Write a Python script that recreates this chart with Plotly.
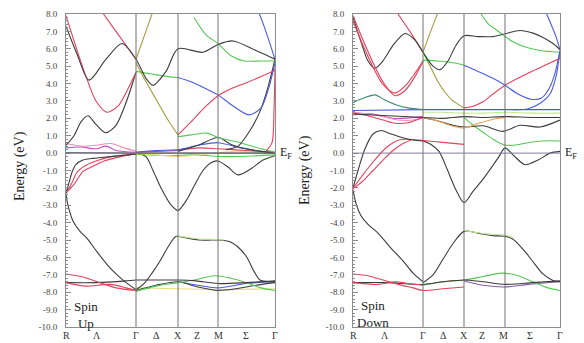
import plotly.graph_objects as go

# ---------------- axes / labels ----------------
UP_SYM_K = [0, 70, 112, 152, 209]          # R, Gamma, X, M, Gamma
DN_SYM_K = [0, 70, 111, 152, 207]
K_LABELS = ["R", "Λ", "Γ", "Δ", "X", "Z", "M", "Σ", "Γ"]
UP_LABEL_K = [0, 31, 70, 90, 112, 131, 152, 180, 209]
DN_LABEL_K = [0, 32, 70, 90, 111, 129, 150, 177, 207]
E_TICKS = [8, 7, 6, 5, 4, 3, 2, 1, 0, -1, -2, -3, -4, -5, -6, -7, -8, -9, -10]
E_TICK_LABELS = ["8.0", "7.0", "6.0", "5.0", "4.0", "3.0", "2.0", "1.0", "0.0", "-1.0",
                 "-2.0", "-3.0", "-4.0", "-5.0", "-6.0", "-7.0", "-8.0", "-9.0", "-10.0"]

# ---------------- Spin Up bands (k, E in eV) ----------------
u_blk_hi_k = [0, 11, 23, 40, 56, 70, 80, 87, 100, 112, 137, 152, 167, 190, 209]
u_blk_hi_e = [7.3, 5.7, 4.2, 5.4, 6.3, 5.4, 4.3, 3.9, 4.7, 6.0, 5.8, 6.25, 6.45, 5.9, 5.4]
u_red_par_k = [0, 10, 20, 30, 41, 52, 62, 70]
u_red_par_e = [7.9, 6.1, 4.4, 3.0, 2.35, 2.7, 3.7, 4.65]
u_red_top_k = [30, 50, 70]
u_red_top_e = [8.6, 7.0, 5.4]
u_olv_v_k = [70, 80, 91, 102, 112]
u_olv_v_e = [5.2, 4.1, 3.0, 1.9, 1.05]
u_red_xm_k = [112, 125, 140, 152, 165, 181, 195, 209]
u_red_xm_e = [1.05, 1.8, 2.7, 3.3, 3.7, 4.06, 4.4, 4.75]
u_olv_up_k = [70, 78, 86, 92]
u_olv_up_e = [5.4, 6.7, 8.0, 9.0]
u_grn_gx_k = [70, 80, 91, 102, 112]
u_grn_gx_e = [4.7, 4.6, 4.5, 4.4, 4.35]
u_blu_xm_k = [112, 125, 140, 152, 165, 183, 195, 203, 209]
u_blu_xm_e = [4.35, 4.1, 3.7, 3.35, 2.8, 2.2, 2.6, 3.8, 5.2]
u_grn_hi_k = [128, 140, 152, 165, 178, 195, 209]
u_grn_hi_e = [7.8, 6.8, 6.3, 5.6, 5.3, 5.3, 5.3]
u_blu_top_k = [188, 198, 209]
u_blu_top_e = [8.8, 7.3, 5.4]
u_blk_rise_k = [160, 172, 184, 194, 202, 209]
u_blk_rise_e = [0.2, 0.4, 1.3, 2.4, 3.8, 5.4]
u_red_vert_k = [200, 206, 208, 209]
u_red_vert_e = [0.1, 0.6, 2.5, 4.9]
u_blk_lo_k = [0, 8, 15, 22, 30, 40, 50, 60, 70]
u_blk_lo_e = [0.45, 1.0, 1.8, 2.15, 1.65, 1.17, 1.6, 2.9, 4.65]
u_pnk_f_k = [0, 15, 30, 45, 58, 70]
u_pnk_f_e = [0.55, 0.4, 0.45, 0.55, 0.3, 0.1]
u_mag_f_k = [0, 15, 30, 40, 50, 70]
u_mag_f_e = [0.3, 0.35, 0.25, 0.4, 0.15, 0.05]
u_blk_f0_k = [0, 70, 112, 152, 209]
u_blk_f0_e = [0.02, 0.0, 0.0, 0.0, 0.0]
u_blu_f_k = [70, 90, 112, 132, 152, 175, 195, 209]
u_blu_f_e = [0.05, 0.15, 0.2, 0.45, 0.6, 0.3, 0.1, 0.05]
u_grn_f_k = [112, 125, 141, 152, 174, 195, 209]
u_grn_f_e = [0.95, 1.05, 1.15, 0.9, 0.6, 0.25, 0.05]
u_blk_m_k = [112, 132, 152, 165, 180, 195, 209]
u_blk_m_e = [0.1, 0.45, 0.9, 0.5, 0.25, 0.1, 0.0]
u_olv_f_k = [70, 91, 112, 140, 170, 209]
u_olv_f_e = [0.0, -0.1, -0.2, -0.05, 0.1, 0.0]
u_grn_f2_k = [70, 100, 130, 160, 209]
u_grn_f2_e = [-0.05, -0.15, -0.1, -0.2, -0.1]
u_red_f_k = [70, 91, 112, 132, 152, 180, 209]
u_red_f_e = [0.05, 0.1, 0.15, 0.3, 0.25, 0.15, 0.05]
u_blk_val_k = [70, 80, 87, 95, 104, 112, 120, 128, 137, 145, 152, 162, 172, 185, 197, 209]
u_blk_val_e = [0.0, -0.2, -1.0, -2.0, -2.9, -3.3, -2.75, -1.9, -1.0, -0.55, -0.45, -0.8, -1.25, -0.9, -0.4, -0.15]
u_blk_r_k = [0, 3, 6, 10, 17, 27, 45, 70]
u_blk_r_e = [-2.3, -1.7, -1.1, -0.65, -0.4, -0.3, -0.2, -0.05]
u_red_r1_k = [0, 6, 11, 20, 30, 45, 70]
u_red_r1_e = [-2.3, -1.7, -1.1, -0.7, -0.45, -0.2, -0.05]
u_red_r2_k = [0, 8, 17, 27, 38, 55, 70]
u_red_r2_e = [-2.3, -1.8, -1.05, -0.75, -0.45, -0.2, -0.05]
u_blk_deep_k = [0, 2, 7, 14, 21, 30, 44, 57, 70]
u_blk_deep_e = [-2.35, -3.0, -3.9, -4.5, -4.9, -5.6, -6.6, -7.3, -7.85]
u_blk_gxmg_k = [70, 78, 86, 94, 102, 110, 122, 134, 145, 152, 164, 172, 181, 188, 194, 209]
u_blk_gxmg_e = [-7.85, -7.5, -6.9, -6.2, -5.4, -4.8, -4.9, -5.0, -5.0, -5.0, -5.1, -5.4, -6.0, -6.8, -7.3, -7.4]
u_grn_xm_k = [110, 122, 134, 145, 158]
u_grn_xm_e = [-4.75, -4.85, -4.95, -4.95, -5.0]
u_red_l1_k = [0, 15, 34, 50, 70]
u_red_l1_e = [-6.95, -7.1, -7.45, -7.75, -7.9]
u_red_l2_k = [0, 20, 44, 60, 70]
u_red_l2_e = [-7.45, -7.65, -7.55, -7.75, -7.9]
u_blk_l_k = [0, 30, 60, 70, 90, 112, 130, 152, 180, 209]
u_blk_l_e = [-7.45, -7.45, -7.35, -7.3, -7.3, -7.3, -7.35, -7.5, -7.45, -7.35]
u_grn_l_k = [70, 90, 112, 132, 149, 165, 180, 195, 209]
u_grn_l_e = [-7.95, -7.65, -7.45, -7.25, -7.05, -7.2, -7.45, -7.75, -7.9]
u_blk_l2_k = [70, 90, 112, 132, 152, 170, 190, 209]
u_blk_l2_e = [-7.9, -7.6, -7.4, -7.7, -7.9, -7.8, -7.6, -7.45]
u_blu_l_k = [112, 132, 152, 180, 209]
u_blu_l_e = [-7.4, -7.6, -7.75, -7.5, -7.4]
u_yel_l_k = [70, 112, 152, 209]
u_yel_l_e = [-7.75, -7.8, -7.85, -7.8]

# ---------------- Spin Down bands ----------------
d_red_a_k = [0, 10, 20, 30, 42, 52, 62, 70]
d_red_a_e = [7.9, 6.5, 5.2, 4.1, 3.3, 3.6, 4.4, 5.3]
d_red_b_k = [0, 10, 20, 30, 42, 52, 62, 70]
d_red_b_e = [7.6, 6.2, 4.95, 3.95, 3.45, 3.85, 4.6, 5.3]
d_blk_hi_k = [0, 8, 15, 22, 30, 40, 52, 62, 70, 80, 87, 95, 103, 111, 125, 140, 152, 167, 180, 190, 200, 207]
d_blk_hi_e = [7.8, 6.4, 5.3, 4.88, 5.3, 6.2, 6.88, 6.5, 5.8, 5.0, 4.8, 5.3, 6.2, 6.75, 6.7, 6.7, 6.86, 7.05, 6.9, 6.65, 6.3, 5.95]
d_red_top_k = [45, 58, 70]
d_red_top_e = [8.0, 6.9, 5.8]
d_olv_v_k = [70, 78, 85, 92, 99, 111]
d_olv_v_e = [5.8, 4.9, 4.1, 3.5, 3.05, 2.6]
d_olv_up_k = [70, 77, 84, 90]
d_olv_up_e = [5.8, 6.9, 7.95, 8.9]
d_grn_gx_k = [70, 85, 100, 111]
d_grn_gx_e = [5.35, 5.3, 5.2, 5.07]
d_blu_xm_k = [111, 125, 140, 152, 165, 178, 188, 196, 202, 207]
d_blu_xm_e = [5.05, 4.7, 4.3, 3.9, 3.4, 3.1, 3.15, 3.7, 4.6, 5.9]
d_red_xm_k = [111, 120, 130, 140, 152, 165, 177, 192, 207]
d_red_xm_e = [2.6, 2.7, 2.95, 3.4, 3.9, 4.3, 4.65, 5.05, 5.45]
d_blu_top_k = [190, 197, 203, 207]
d_blu_top_e = [8.5, 7.55, 6.7, 5.95]
d_blu_rise_k = [160, 175, 188, 197, 203, 207]
d_blu_rise_e = [2.5, 2.55, 2.9, 3.4, 4.4, 5.9]
d_grn_hi_k = [128, 135, 143, 150, 160, 170, 187, 207]
d_grn_hi_e = [8.0, 7.45, 7.1, 6.8, 6.4, 6.15, 5.9, 5.8]
d_tel_r_k = [0, 10, 22, 32, 42, 55, 70]
d_tel_r_e = [2.9, 3.15, 3.35, 3.05, 2.8, 2.6, 2.5]
d_blu_flat_k = [0, 70, 111, 152, 207]
d_blu_flat_e = [2.45, 2.5, 2.5, 2.5, 2.5]
d_blk_flat_k = [0, 35, 70, 90, 111, 130, 152, 180, 207]
d_blk_flat_e = [2.25, 2.15, 2.05, 2.0, 2.1, 2.05, 2.1, 2.05, 2.05]
d_red_f_k = [0, 15, 30, 42, 55, 70]
d_red_f_e = [2.3, 2.15, 1.9, 1.72, 1.75, 2.05]
d_pnk_f_k = [0, 15, 30, 45, 60, 70]
d_pnk_f_e = [2.35, 2.25, 2.1, 1.9, 1.9, 2.05]
d_mag_f_k = [0, 20, 40, 70]
d_mag_f_e = [2.2, 2.25, 2.0, 2.1]
d_lgr_f_k = [70, 90, 111, 130, 152, 180, 207]
d_lgr_f_e = [2.35, 2.35, 2.3, 2.3, 2.35, 2.3, 2.3]
d_org_f_k = [70, 85, 100, 111, 125, 140, 152]
d_org_f_e = [2.05, 1.85, 1.55, 1.45, 1.7, 1.95, 2.05]
d_grn_d_k = [111, 120, 130, 140, 150, 160, 175, 190, 207]
d_grn_d_e = [2.05, 1.6, 1.2, 0.8, 0.5, 0.45, 0.6, 0.7, 0.7]
d_blk_w_k = [70, 85, 100, 111, 130, 150, 167, 187, 207]
d_blk_w_e = [2.05, 1.85, 1.6, 1.5, 1.57, 1.25, 1.6, 1.5, 1.9]
d_blk_lo_k = [0, 5, 12, 20, 28, 38, 50, 60, 70]
d_blk_lo_e = [-2.0, -1.0, 0.25, 1.1, 1.3, 1.1, 0.88, 0.75, 0.7]
d_red_lo_k = [0, 8, 16, 24, 32, 40, 48, 60, 70, 90, 111]
d_red_lo_e = [-2.0, -1.4, -0.8, -0.25, 0.25, 0.6, 0.78, 0.78, 0.72, 0.62, 0.5]
d_red_lo2_k = [0, 10, 20, 30, 40, 50, 58]
d_red_lo2_e = [-2.05, -1.6, -1.0, -0.4, 0.15, 0.55, 0.76]
d_blk_v_k = [70, 78, 86, 94, 102, 111, 120, 130, 140, 146, 152, 160, 172, 185, 197, 207]
d_blk_v_e = [0.7, 0.5, 0.1, -0.9, -2.0, -2.85, -2.2, -1.5, -0.7, -0.2, 0.3, -0.1, -0.67, -0.4, 0.0, 0.1]
d_blk_deep_k = [0, 3, 8, 15, 25, 37, 50, 60, 70]
d_blk_deep_e = [-2.1, -2.9, -3.6, -4.1, -4.6, -5.4, -6.2, -6.9, -7.4]
d_blk_gxmg_k = [70, 80, 90, 100, 111, 125, 140, 152, 160, 168, 174, 182, 190, 200, 207]
d_blk_gxmg_e = [-7.45, -7.0, -6.1, -5.2, -4.5, -4.6, -4.75, -4.78, -4.95, -5.4, -5.8, -6.4, -6.95, -7.33, -7.4]
d_grn_xm_k = [111, 130, 152, 160]
d_grn_xm_e = [-4.45, -4.62, -4.72, -4.85]
d_red_l1_k = [0, 15, 30, 45, 60, 70, 90, 111]
d_red_l1_e = [-6.95, -7.05, -7.3, -7.55, -7.75, -7.9, -7.8, -7.7]
d_red_l2_k = [0, 25, 42, 55, 70]
d_red_l2_e = [-7.45, -7.55, -7.4, -7.5, -7.6]
d_blk_l_k = [0, 35, 70, 90, 111, 130, 152, 180, 207]
d_blk_l_e = [-7.45, -7.45, -7.55, -7.4, -7.3, -7.4, -7.55, -7.45, -7.35]
d_grn_l_k = [70, 90, 111, 130, 149, 165, 180, 195, 207]
d_grn_l_e = [-7.6, -7.4, -7.3, -7.1, -6.9, -7.05, -7.4, -7.75, -7.9]
d_pur_l_k = [111, 130, 152, 175, 207]
d_pur_l_e = [-7.35, -7.6, -7.7, -7.55, -7.4]

# ---------------- style ----------------
BLACK = "#3c3c3c"
RED = "#e6415c"
PINK = "#f08cb4"
MAGENTA = "#cc4cc4"
GREEN = "#55c855"
LGREEN = "#c2ea8a"
BLUE = "#4a5ae0"
OLIVE = "#a49c3c"
YELLOW = "#e6e07a"
ORANGE = "#e6a455"
TEAL = "#3c8c6c"
PURPLE = "#8a5aa8"
FRAME = "#8c8c8c"
SERIF = "Liberation Serif, Times New Roman, serif"

UP_BANDS = [
    (u_yel_l_k, u_yel_l_e, YELLOW), (u_blu_l_k, u_blu_l_e, BLUE),
    (u_blk_l2_k, u_blk_l2_e, BLACK), (u_grn_l_k, u_grn_l_e, GREEN),
    (u_blk_l_k, u_blk_l_e, BLACK), (u_red_l2_k, u_red_l2_e, RED), (u_red_l1_k, u_red_l1_e, RED),
    (u_blk_gxmg_k, u_blk_gxmg_e, BLACK), (u_grn_xm_k, u_grn_xm_e, LGREEN),
    (u_blk_deep_k, u_blk_deep_e, BLACK),
    (u_red_r2_k, u_red_r2_e, RED), (u_red_r1_k, u_red_r1_e, RED), (u_blk_r_k, u_blk_r_e, BLACK),
    (u_blk_val_k, u_blk_val_e, BLACK),
    (u_grn_f2_k, u_grn_f2_e, GREEN), (u_olv_f_k, u_olv_f_e, YELLOW), (u_red_f_k, u_red_f_e, RED),
    (u_blk_f0_k, u_blk_f0_e, BLACK), (u_mag_f_k, u_mag_f_e, MAGENTA), (u_pnk_f_k, u_pnk_f_e, PINK),
    (u_blu_f_k, u_blu_f_e, BLUE), (u_blk_m_k, u_blk_m_e, BLACK), (u_grn_f_k, u_grn_f_e, GREEN),
    (u_blk_lo_k, u_blk_lo_e, BLACK), (u_red_vert_k, u_red_vert_e, RED),
    (u_blk_rise_k, u_blk_rise_e, BLACK), (u_blu_top_k, u_blu_top_e, BLUE),
    (u_grn_hi_k, u_grn_hi_e, GREEN), (u_blu_xm_k, u_blu_xm_e, BLUE), (u_grn_gx_k, u_grn_gx_e, GREEN),
    (u_olv_up_k, u_olv_up_e, OLIVE), (u_red_xm_k, u_red_xm_e, RED), (u_olv_v_k, u_olv_v_e, OLIVE),
    (u_red_top_k, u_red_top_e, RED), (u_red_par_k, u_red_par_e, RED), (u_blk_hi_k, u_blk_hi_e, BLACK),
]

DN_BANDS = [
    (d_pur_l_k, d_pur_l_e, PURPLE), (d_grn_l_k, d_grn_l_e, GREEN), (d_blk_l_k, d_blk_l_e, BLACK),
    (d_red_l2_k, d_red_l2_e, RED), (d_red_l1_k, d_red_l1_e, RED),
    (d_blk_gxmg_k, d_blk_gxmg_e, BLACK), (d_grn_xm_k, d_grn_xm_e, LGREEN),
    (d_blk_deep_k, d_blk_deep_e, BLACK),
    (d_red_lo2_k, d_red_lo2_e, RED), (d_red_lo_k, d_red_lo_e, RED), (d_blk_lo_k, d_blk_lo_e, BLACK),
    (d_blk_v_k, d_blk_v_e, BLACK),
    (d_grn_d_k, d_grn_d_e, GREEN), (d_blk_w_k, d_blk_w_e, BLACK), (d_org_f_k, d_org_f_e, ORANGE),
    (d_lgr_f_k, d_lgr_f_e, LGREEN), (d_mag_f_k, d_mag_f_e, MAGENTA), (d_pnk_f_k, d_pnk_f_e, PINK),
    (d_red_f_k, d_red_f_e, RED), (d_blk_flat_k, d_blk_flat_e, BLACK), (d_blu_flat_k, d_blu_flat_e, BLUE),
    (d_tel_r_k, d_tel_r_e, TEAL),
    (d_grn_hi_k, d_grn_hi_e, GREEN), (d_blu_rise_k, d_blu_rise_e, BLUE), (d_blu_top_k, d_blu_top_e, BLUE),
    (d_red_xm_k, d_red_xm_e, RED), (d_blu_xm_k, d_blu_xm_e, BLUE), (d_grn_gx_k, d_grn_gx_e, GREEN),
    (d_olv_up_k, d_olv_up_e, OLIVE), (d_olv_v_k, d_olv_v_e, OLIVE), (d_red_top_k, d_red_top_e, RED),
    (d_blk_hi_k, d_blk_hi_e, BLACK), (d_red_b_k, d_red_b_e, RED), (d_red_a_k, d_red_a_e, RED),
]

fig = go.Figure()

for bands, xa, ya in [(UP_BANDS, "x", "y"), (DN_BANDS, "x2", "y2")]:
    for k, e, c in bands:
        fig.add_trace(go.Scatter(
            x=k, y=e, mode="lines", xaxis=xa, yaxis=ya,
            line=dict(color=c, width=1.1, shape="spline", smoothing=0.8),
            showlegend=False, hoverinfo="skip"))

shapes = []
for sym, xa, ya in [(UP_SYM_K, "x", "y"), (DN_SYM_K, "x2", "y2")]:
    for kv in sym[1:-1]:
        shapes.append(dict(type="line", xref=xa, yref=ya + " domain", x0=kv, x1=kv, y0=0, y1=1,
                           line=dict(color="#707070", width=1)))
    shapes.append(dict(type="line", xref=xa + " domain", yref=ya, x0=0, x1=1, y0=0, y1=0,
                       line=dict(color="#8a7a9a", width=1)))

def yaxis_cfg(anchor):
    return dict(anchor=anchor, range=[-10, 8], domain=[0, 1],
                tickvals=E_TICKS, ticktext=E_TICK_LABELS,
                ticks="inside", ticklen=5, tickcolor=FRAME, ticklabelstandoff=6,
                minor=dict(dtick=0.2, ticks="inside", ticklen=2, tickcolor=FRAME),
                showgrid=False, zeroline=False, showline=True, linecolor=FRAME, linewidth=1,
                mirror=True, tickfont=dict(family=SERIF, size=9, color="#444"))

def xaxis_cfg(domain, rng, anchor):
    return dict(domain=domain, range=rng, anchor=anchor, showticklabels=False,
                ticks="", showgrid=False, zeroline=False, showline=True, linecolor=FRAME,
                linewidth=1, mirror=True)

W, H = 584, 343
annotations = []
for labk, xa in [(UP_LABEL_K, "x"), (DN_LABEL_K, "x2")]:
    for kv, lab in zip(labk, K_LABELS):
        annotations.append(dict(text=lab, xref=xa, yref="paper", x=kv, y=0, yanchor="top",
                                yshift=-1, showarrow=False,
                                font=dict(family=SERIF, size=10, color="#333")))

annotations += [
    dict(text="Spin<br>Up", xref="x", yref="y", x=20, y=-9.3, showarrow=False,
         font=dict(family=SERIF, size=13, color="#222"), align="center"),
    dict(text="Spin<br>Down", xref="x2", yref="y2", x=20, y=-9.25, showarrow=False,
         font=dict(family=SERIF, size=13, color="#222"), align="center"),
    dict(text="E<sub>F</sub>", xref="paper", yref="y", x=278 / W, y=0, xanchor="left",
         showarrow=False, font=dict(family=SERIF, size=12, color="#222")),
    dict(text="E<sub>F</sub>", xref="paper", yref="y2", x=563 / W, y=0, xanchor="left",
         showarrow=False, font=dict(family=SERIF, size=12, color="#222")),
    dict(text="Energy (eV)", xref="paper", yref="paper", x=20 / W, y=1 - (166 - 14) / 313,
         xanchor="center", yanchor="middle",
         textangle=-90, showarrow=False, font=dict(family=SERIF, size=14, color="#222")),
    dict(text="Energy (eV)", xref="paper", yref="paper", x=305 / W, y=1 - (170 - 14) / 313,
         xanchor="center", yanchor="middle",
         textangle=-90, showarrow=False, font=dict(family=SERIF, size=14, color="#222")),
]

fig.update_layout(
    width=W, height=H, margin=dict(l=0, r=0, t=14, b=16),
    paper_bgcolor="white", plot_bgcolor="white",
    xaxis=xaxis_cfg([66 / W, 275 / W], [0, 209], "y"),
    yaxis=yaxis_cfg("x"),
    xaxis2=xaxis_cfg([353 / W, 560 / W], [0, 207], "y2"),
    yaxis2=yaxis_cfg("x2"),
    shapes=shapes, annotations=annotations,
)

fig.write_html("out.html", config={"displayModeBar": False},
               post_script="document.body.style.margin='0px';")
